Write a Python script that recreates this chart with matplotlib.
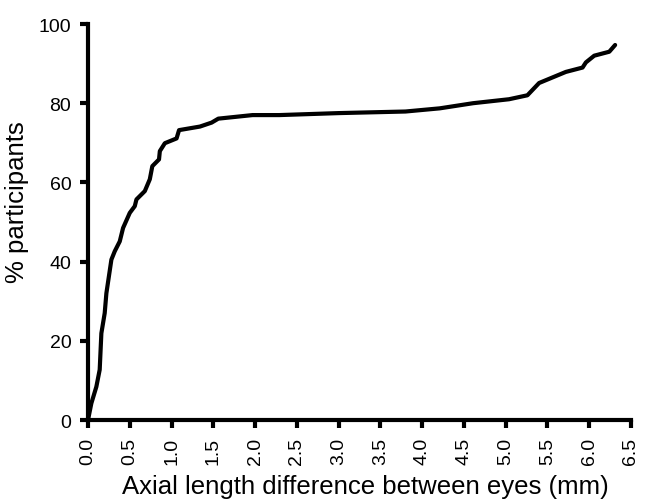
import matplotlib
matplotlib.use("Agg")
import matplotlib.pyplot as plt

diff_mm = [0.0, 0.04, 0.10, 0.14, 0.16, 0.20, 0.22, 0.28, 0.32, 0.38, 0.42, 0.50,
           0.56, 0.58, 0.68, 0.74, 0.77, 0.85, 0.86, 0.92, 1.06, 1.09, 1.34, 1.48,
           1.56, 1.97, 2.29, 3.0, 3.8, 4.21, 4.61, 5.04, 5.26, 5.40, 5.72, 5.92,
           5.96, 6.06, 6.24, 6.31]
pct = [0.0, 4.2, 8.4, 12.7, 21.9, 27.0, 32.0, 40.5, 42.6, 45.1, 48.5, 52.3,
       54.0, 55.7, 57.8, 60.8, 64.1, 65.8, 67.9, 69.9, 71.1, 73.2, 74.1, 75.1,
       76.1, 77.0, 77.0, 77.5, 77.9, 78.7, 80.0, 81.0, 82.0, 85.1, 87.9, 89.0,
       90.3, 92.0, 93.0, 94.7]

x_ticks = [0.0, 0.5, 1.0, 1.5, 2.0, 2.5, 3.0, 3.5, 4.0, 4.5, 5.0, 5.5, 6.0, 6.5]
y_ticks = [0, 20, 40, 60, 80, 100]

plt.rcParams['font.family'] = ['Liberation Sans', 'DejaVu Sans']

fig = plt.figure(figsize=(6.46, 5.02), dpi=100)
ax = fig.add_axes([88/646, 1-421/502, (631-88)/646, (421-25)/502])
ax.plot(diff_mm, pct, color='black', lw=3, solid_joinstyle='round', solid_capstyle='round')
ax.set_xlim(0, 6.5)
ax.set_ylim(0, 100)
ax.set_xticks(x_ticks)
ax.set_xticklabels([f"{t:.1f}" for t in x_ticks], rotation=90, fontsize=14)
ax.set_yticks(y_ticks)
ax.set_yticklabels([str(t) for t in y_ticks], fontsize=14)
for s in ['top', 'right']:
    ax.spines[s].set_visible(False)
for s in ['left', 'bottom']:
    ax.spines[s].set_linewidth(3)
ax.tick_params(axis='both', width=3, length=6, direction='out', pad=6)
ax.set_xlabel('Axial length difference between eyes (mm)', fontsize=18.5)
ax.set_ylabel('% participants', fontsize=18.5)
ax.xaxis.set_label_coords((365 - 88) / (631 - 88), -(487 - 421) / (421 - 25), transform=ax.transAxes)
ax.yaxis.set_label_coords(-(88 - 17) / (631 - 88), (421 - 202) / (421 - 25), transform=ax.transAxes)
ax.xaxis.label.set_va('center')
ax.yaxis.label.set_va('center')
fig.savefig('out.png', dpi=100)
